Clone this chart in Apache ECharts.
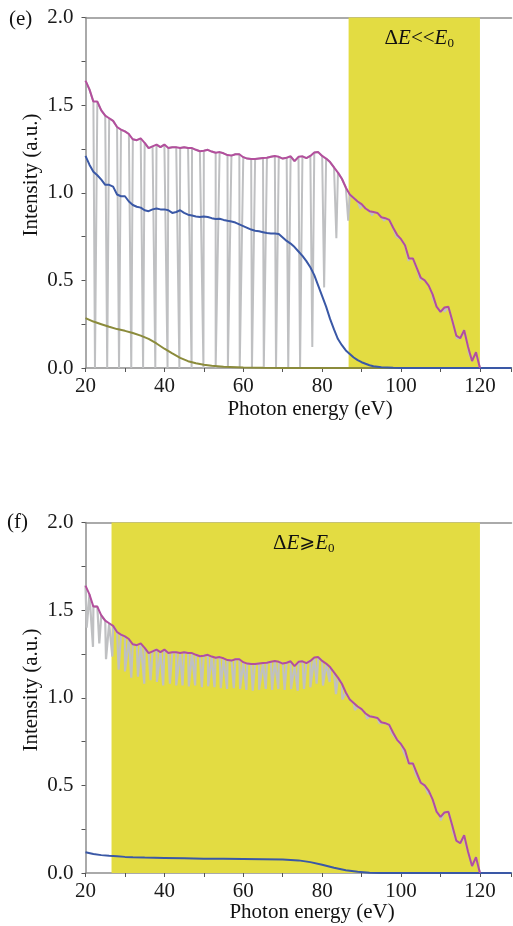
<!DOCTYPE html>
<html><head><meta charset="utf-8">
<script src="https://cdn.jsdelivr.net/npm/echarts@6/dist/echarts.min.js"></script>
<style>html,body{margin:0;padding:0;background:#fff}#c{width:513px;height:926px}</style>
</head><body><div id="c"></div>
<script>
// ---- data ----
const envEnergy = []; for (let e = 20; e <= 120; e++) envEnergy.push(e);
const magenta = [
 1.64,1.59,1.52,1.52,1.47,1.44,1.425,1.41,1.375,1.36,
 1.35,1.335,1.305,1.30,1.31,1.285,1.255,1.265,1.275,1.26,
 1.275,1.255,1.26,1.26,1.255,1.26,1.255,1.255,1.245,1.237,
 1.24,1.245,1.235,1.228,1.232,1.225,1.215,1.212,1.22,1.22,
 1.203,1.195,1.193,1.192,1.195,1.198,1.2,1.205,1.21,1.205,
 1.195,1.2,1.208,1.18,1.205,1.208,1.198,1.21,1.23,1.232,
 1.21,1.195,1.175,1.145,1.115,1.08,1.03,0.99,0.97,0.95,
 0.935,0.91,0.895,0.89,0.885,0.86,0.855,0.845,0.80,0.76,
 0.735,0.70,0.625,0.625,0.57,0.515,0.50,0.47,0.42,0.35,
 0.32,0.345,0.35,0.27,0.185,0.17,0.215,0.12,0.04,0.09,
 0.0];

const blueE_x = [20,21,22,23,24,25,26,27,28,29,30,31,32,33,34,35,36,37,38,39,40,41,42,43,44,45,46,47,48,49,
 50,51,52,53,54,55,56,57,58,59,60,61,62,63,64,65,66,67,68,69,70,71,72,73,74,75,76,77,78,79,
 80,81,82,83,84,85,86,87,88,89,90,91,92,93,95,98,100,128];
const blueE_y = [1.21,1.16,1.12,1.10,1.075,1.045,1.045,1.035,0.99,0.98,
 0.98,0.95,0.93,0.92,0.915,0.90,0.895,0.905,0.91,0.905,
 0.905,0.90,0.885,0.89,0.90,0.885,0.875,0.87,0.865,0.862,
 0.865,0.862,0.855,0.85,0.852,0.845,0.84,0.836,0.83,0.82,
 0.81,0.80,0.79,0.783,0.78,0.775,0.77,0.768,0.767,0.765,
 0.745,0.725,0.71,0.69,0.665,0.64,0.61,0.575,0.53,0.47,
 0.41,0.35,0.28,0.22,0.165,0.13,0.10,0.08,0.06,0.045,
 0.033,0.024,0.016,0.01,0.004,0.001,0,0];

const oliveE_x = [20,22,24,26,28,30,32,34,36,38,40,42,44,46,48,50,52,55,60,65,70,128];
const oliveE_y = [0.285,0.265,0.25,0.235,0.222,0.212,0.20,0.185,0.166,0.14,0.11,0.083,0.058,0.039,0.027,0.019,0.013,0.007,0.003,0.001,0,0];

const blueF_x = [20,22,24,26,28,30,32,35,40,45,50,55,60,65,70,74,77,80,83,86,89,92,95,128];
const blueF_y = [0.118,0.108,0.102,0.098,0.095,0.092,0.09,0.088,0.086,0.084,0.082,0.081,0.08,0.079,0.077,0.072,0.062,0.047,0.03,0.016,0.007,0.002,0,0];

const grayE_dipX = [22.4,25.5,28.5,31.6,34.6,37.7,40.8,43.8,46.9,49.9,53.0,56.1,59.1,62.2,65.2,68.3,71.4,74.4,77.5,80.5,
 83.6,86.6,89.7,92.7,95.8,98.8,101.9,104.9,108.0,111.0,114.1,117.1];
const grayE_dipY = [0,0,0,0,0,0,0,0,0,0,0,0,0,0,0,0,0,0,0.12,0.46,
 0.74,0.84,0.91,0.87,0.84,0.75,0.61,0.50,0.40,0.32,0.17,0.09];

const grayF_dipX = [20.3,21.9,23.5,25.2,26.8,28.4,30.0,31.6,33.3,34.9,36.5,38.1,39.7,41.4,43.0,44.6,46.2,47.8,49.5,51.1,
 52.7,54.3,55.9,57.6,59.2,60.8,62.4,64.0,65.7,67.3,68.9,70.5,72.1,73.8,75.4,77.0,78.6,80.2,81.9,83.5,
 85.1,88.3,91.4,94.5,97.6,100.7,103.8,106.9,110.0,113.1,116.2];
const grayF_dipY = [1.40,1.29,1.31,1.22,1.235,1.16,1.15,1.115,1.12,1.08,1.10,1.09,1.07,1.08,1.07,1.07,1.065,1.07,1.06,1.065,
 1.06,1.055,1.05,1.055,1.05,1.045,1.04,1.045,1.05,1.045,1.05,1.045,1.05,1.04,1.05,1.06,1.08,1.07,1.09,1.02,
 0.99,0.93,0.88,0.855,0.80,0.69,0.56,0.45,0.30,0.24,0.18];

const bandE = [86.7, 120];
const bandF = [26.6, 120];
const xTicks = {min: 20, max: 128, step: 10, labelStep: 20, labelMax: 120};
const yTicks = {min: 0, max: 2, step: 0.25, labelStep: 0.5};

// ---- helpers ----
function pairs(xs, ys) { return xs.map((x, i) => [x, ys[i]]); }
function mergeGray(envX, envY, dipX, dipY) {
  const p = pairs(envX, envY).concat(pairs(dipX, dipY));
  p.sort((a, b) => a[0] - b[0]);
  return p;
}

const SERIF = "'Liberation Serif', 'Times New Roman', 'DejaVu Serif', serif";
const AX = '#8e8e8e';
const C = {gray: '#bfc0c2', magenta: '#b34f9d', blue: '#3a58a6', olive: '#8b8b3b', yellow: '#e3dc42'};

function xAxes(gi) {
  return [{
    type: 'value', gridIndex: gi, min: xTicks.min, max: xTicks.max, interval: xTicks.step,
    axisLine: {show: true, onZero: false, lineStyle: {color: AX, width: 1.5}},
    axisTick: {show: true, length: 4, lineStyle: {color: '#555', width: 1}},
    axisLabel: {margin: 8, fontFamily: SERIF, fontSize: 21, color: '#1a1a1a',
      formatter: v => (Math.abs(v % xTicks.labelStep) < 1e-6 && v <= xTicks.labelMax) ? String(v) : ''},
    splitLine: {show: false}
  }, {
    type: 'value', gridIndex: gi, position: 'top', min: xTicks.min, max: xTicks.max,
    axisLine: {show: true, onZero: false, lineStyle: {color: AX, width: 1.5}},
    axisTick: {show: false}, axisLabel: {show: false}, splitLine: {show: false}
  }];
}
function yAxis(gi) {
  return {
    type: 'value', gridIndex: gi, min: yTicks.min, max: yTicks.max, interval: yTicks.step,
    axisLine: {show: true, onZero: false, lineStyle: {color: AX, width: 1.5}},
    axisTick: {show: true, length: 4, lineStyle: {color: '#555', width: 1}},
    axisLabel: {margin: 12, fontFamily: SERIF, fontSize: 21, color: '#1a1a1a',
      formatter: v => {const r = v / yTicks.labelStep; return Math.abs(r - Math.round(r)) < 1e-6 ? v.toFixed(1) : '';}},
    splitLine: {show: false}
  };
}
const rich = {
  a: {fontFamily: SERIF, fontSize: 21, color: '#111', lineHeight: 24},
  i: {fontFamily: SERIF, fontSize: 21, fontStyle: 'italic', color: '#111', lineHeight: 24},
  m: {fontFamily: "'DejaVu Serif', 'DejaVu Sans', " + SERIF, fontSize: 19, color: '#111', lineHeight: 24},
  s: {fontFamily: SERIF, fontSize: 13, color: '#111', lineHeight: 13, verticalAlign: 'bottom'}
};
function line(name, xi, yi, data, color, z, width, extra) {
  return Object.assign({
    name, type: 'line', xAxisIndex: xi, yAxisIndex: yi, data, showSymbol: false, symbol: 'none',
    lineStyle: {color, width}, z, silent: true, animation: false
  }, extra || {});
}
function band(range, text, off) {
  return {
    silent: true, itemStyle: {color: C.yellow},
    label: {show: true, position: 'insideTop', distance: 9, offset: off, formatter: text, rich},
    data: [[{xAxis: range[0], yAxis: yTicks.min}, {xAxis: range[1], yAxis: yTicks.max}]]
  };
}

const magentaPts = pairs(envEnergy, magenta);
const option = {
  animation: false,
  grid: [
    {left: 85.5, top: 17.5, width: 426, height: 350.5, outerBoundsMode: 'none'},
    {left: 85.5, top: 522.5, width: 426, height: 350.5, outerBoundsMode: 'none'}
  ],
  xAxis: xAxes(0).concat(xAxes(1)),
  yAxis: [yAxis(0), yAxis(1)],
  series: [
    line('gray-e', 0, 0, mergeGray(envEnergy, magenta, grayE_dipX, grayE_dipY), C.gray, 2.4, 2,
      {markArea: band(bandE, '{a|Δ}{i|E}{a|<<}{i|E}{s|0}', [5, 0])}),
    line('olive-e', 0, 0, pairs(oliveE_x, oliveE_y), C.olive, 3, 2),
    line('blue-e', 0, 0, pairs(blueE_x, blueE_y), C.blue, 4, 2),
    line('magenta-e', 0, 0, magentaPts, C.magenta, 5, 2),
    line('gray-f', 2, 1, mergeGray(envEnergy, magenta, grayF_dipX, grayF_dipY), C.gray, 2, 2.2,
      {markArea: band(bandF, '{a|Δ}{i|E}{m|⩾}{i|E}{s|0}', [8, 0])}),
    line('blue-f', 2, 1, pairs(blueF_x, blueF_y), C.blue, 4, 2),
    line('magenta-f', 2, 1, magentaPts, C.magenta, 5, 2)
  ],
  graphic: [
    {type: 'text', left: 9, top: 9, style: {text: '(e)', font: '21px ' + SERIF, fill: '#111'}},
    {type: 'text', left: 7, top: 512, style: {text: '(f)', font: '21px ' + SERIF, fill: '#111'}},
    {type: 'text', x: 31, y: 175, rotation: Math.PI / 2,
      style: {text: 'Intensity (a.u.)', font: '21px ' + SERIF, fill: '#111', textAlign: 'center', textVerticalAlign: 'middle', align: 'center', verticalAlign: 'middle'}},
    {type: 'text', x: 31, y: 690, rotation: Math.PI / 2,
      style: {text: 'Intensity (a.u.)', font: '21px ' + SERIF, fill: '#111', textAlign: 'center', textVerticalAlign: 'middle', align: 'center', verticalAlign: 'middle'}},
    {type: 'text', x: 310, y: 409,
      style: {text: 'Photon energy (eV)', font: '21px ' + SERIF, fill: '#111', textAlign: 'center', textVerticalAlign: 'middle', align: 'center', verticalAlign: 'middle'}},
    {type: 'text', x: 312, y: 912,
      style: {text: 'Photon energy (eV)', font: '21px ' + SERIF, fill: '#111', textAlign: 'center', textVerticalAlign: 'middle', align: 'center', verticalAlign: 'middle'}}
  ]
};
const chart = echarts.init(document.getElementById('c'), null, {renderer: 'canvas'});
chart.setOption(option);
</script></body></html>
